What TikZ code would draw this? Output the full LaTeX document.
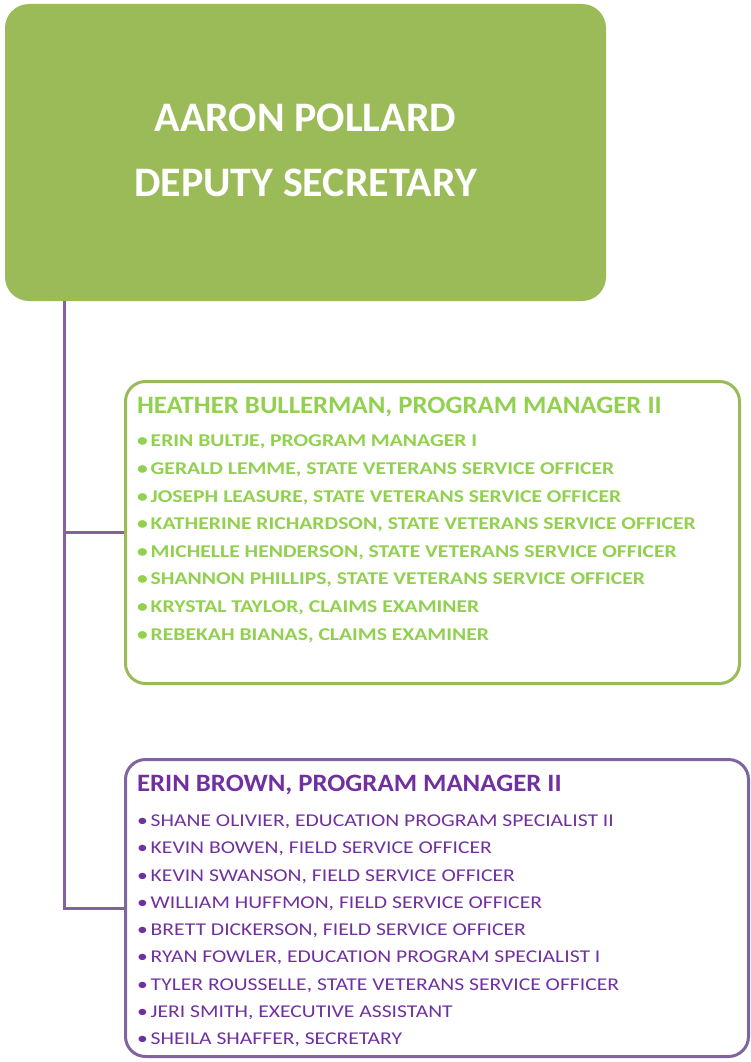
\documentclass[tikz,border=0pt]{standalone}
\usepackage{fontspec}
\setmainfont{Carlito}
\newfontfamily\leadfont[FakeStretch=1.07]{Carlito}
\newfontfamily\staffont[FakeStretch=1.2]{Carlito}
\usepackage{xcolor}
\usetikzlibrary{positioning, calc}

\definecolor{leafgreen}{HTML}{9BBB59}
\definecolor{textgreen}{HTML}{92D050}
\definecolor{linepurple}{HTML}{8064A2}
\definecolor{textpurple}{HTML}{7030A0}

\tikzset{
  headbox/.style={
    rectangle, rounded corners=24pt,
    fill=leafgreen, draw=none,
    text=white, align=center,
    font=\fontsize{42}{65}\selectfont\bfseries,
    text depth=4pt,
    inner sep=0pt
  },
  teambox/.style={
    rectangle, rounded corners=20pt,
    draw=#1, line width=3pt,
    inner sep=0pt
  },
  orgline/.style={
    draw=linepurple, line width=3pt
  }
}

\begin{document}
\begin{tikzpicture}[x=1pt, y=-1pt]

\useasboundingbox (0,0) rectangle (751,1062);

%------------------------------------------------------
% NODES
%------------------------------------------------------

% deputy secretary
\node[headbox, minimum width=601pt, minimum height=297pt] (pollard) at (305.5,152.5) {%
  AARON POLLARD\\
  DEPUTY SECRETARY
};

% first team
\node[teambox=leafgreen, minimum width=614pt, minimum height=302pt,
      text=textgreen] (heather) at (432.5,532.5) {%
  \parbox[c][271pt][t]{591pt}{%
    {\leadfont\fontsize{25}{30}\selectfont\bfseries HEATHER BULLERMAN, PROGRAM MANAGER II\par}
    \vspace{6pt}
    {\staffont\fontsize{18}{27.6}\selectfont\bfseries
    \textbullet\,ERIN BULTJE, PROGRAM MANAGER I\\
    \textbullet\,GERALD LEMME, STATE VETERANS SERVICE OFFICER\\
    \textbullet\,JOSEPH LEASURE, STATE VETERANS SERVICE OFFICER\\
    \textbullet\,KATHERINE RICHARDSON, STATE VETERANS SERVICE OFFICER\\
    \textbullet\,MICHELLE HENDERSON, STATE VETERANS SERVICE OFFICER\\
    \textbullet\,SHANNON PHILLIPS, STATE VETERANS SERVICE OFFICER\\
    \textbullet\,KRYSTAL TAYLOR, CLAIMS EXAMINER\\
    \textbullet\,REBEKAH BIANAS, CLAIMS EXAMINER\par}
  }
};

% second team
\node[teambox=linepurple, minimum width=623pt, minimum height=297pt,
      text=textpurple] (erin) at (437,908) {%
  \parbox[c][266pt][t]{600pt}{%
    {\leadfont\fontsize{25}{30}\selectfont\bfseries ERIN BROWN, PROGRAM MANAGER II\par}
    \vspace{8pt}
    {\staffont\fontsize{18}{27.25}\selectfont
    \textbullet\,SHANE OLIVIER, EDUCATION PROGRAM SPECIALIST II\\
    \textbullet\,KEVIN BOWEN, FIELD SERVICE OFFICER\\
    \textbullet\,KEVIN SWANSON, FIELD SERVICE OFFICER\\
    \textbullet\,WILLIAM HUFFMON, FIELD SERVICE OFFICER\\
    \textbullet\,BRETT DICKERSON, FIELD SERVICE OFFICER\\
    \textbullet\,RYAN FOWLER, EDUCATION PROGRAM SPECIALIST I\\
    \textbullet\,TYLER ROUSSELLE, STATE VETERANS SERVICE OFFICER\\
    \textbullet\,JERI SMITH, EXECUTIVE ASSISTANT\\
    \textbullet\,SHEILA SHAFFER, SECRETARY\par}
  }
};

%------------------------------------------------------
% EDGES
%------------------------------------------------------

\draw[orgline] ($(pollard.south west)+(60,0)$) |- (heather.west);
\draw[orgline] ($(pollard.south west)+(60,0)$) |- (erin.west);

\end{tikzpicture}
\end{document}
